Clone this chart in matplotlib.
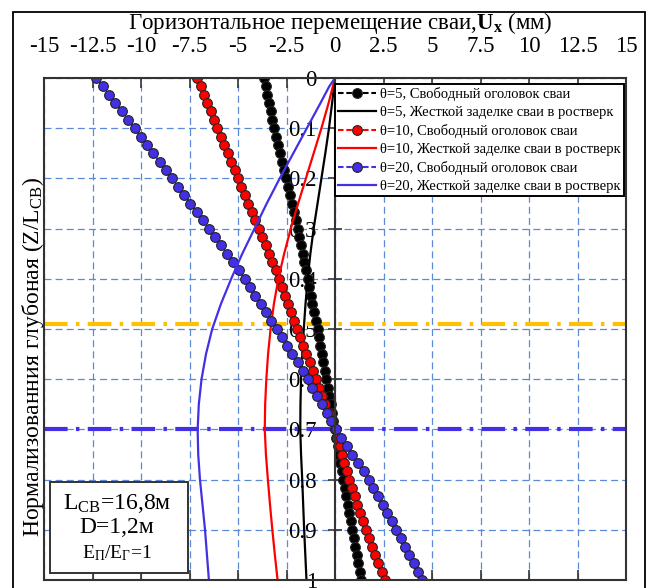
import matplotlib.pyplot as plt
import numpy as np
from matplotlib.patches import Rectangle

plt.rcParams['font.family'] = ['Liberation Serif', 'DejaVu Serif']
plt.rcParams['mathtext.fontset'] = 'custom'
plt.rcParams['mathtext.rm'] = 'Liberation Serif'
plt.rcParams['mathtext.it'] = 'Liberation Serif:italic'
plt.rcParams['mathtext.bf'] = 'Liberation Serif:bold'
plt.rcParams['lines.scale_dashes'] = False

# pile nodes every 0.28 m over 16.8 m -> 61 points for the free-head runs
depth_nodes = np.linspace(0.0, 1.0, 61)

ux_free_5 = [
    -3.66, -3.57, -3.49, -3.40, -3.31, -3.23,
    -3.14, -3.04, -2.94, -2.84, -2.73, -2.63,
    -2.53, -2.43, -2.33, -2.23, -2.13, -2.03,
    -1.93, -1.84, -1.76, -1.67, -1.58, -1.50,
    -1.41, -1.33, -1.24, -1.16, -1.07, -0.99,
    -0.90, -0.83, -0.75, -0.68, -0.60, -0.53,
    -0.45, -0.38, -0.30, -0.23, -0.15, -0.08,
    0.00, 0.07, 0.14, 0.21, 0.28, 0.35,
    0.42, 0.50, 0.58, 0.66, 0.74, 0.82,
    0.90, 0.98, 1.05, 1.13, 1.20, 1.28, 1.35,
]
ux_free_10 = [
    -7.10, -6.93, -6.76, -6.59, -6.41, -6.24,
    -6.07, -5.89, -5.71, -5.54, -5.36, -5.18,
    -5.00, -4.82, -4.64, -4.46, -4.28, -4.10,
    -3.92, -3.75, -3.57, -3.40, -3.23, -3.05,
    -2.88, -2.73, -2.57, -2.42, -2.26, -2.11,
    -1.95, -1.79, -1.63, -1.47, -1.30, -1.14,
    -0.98, -0.82, -0.65, -0.49, -0.33, -0.16,
    0.00, 0.12, 0.24, 0.36, 0.48, 0.60,
    0.72, 0.86, 1.01, 1.15, 1.29, 1.44,
    1.58, 1.74, 1.91, 2.07, 2.23, 2.40, 2.56,
]
ux_free_20 = [
    -12.30, -11.97, -11.64, -11.32, -10.99, -10.66,
    -10.33, -10.01, -9.69, -9.37, -9.04, -8.72,
    -8.40, -8.08, -7.77, -7.45, -7.13, -6.82,
    -6.50, -6.19, -5.88, -5.58, -5.27, -4.96,
    -4.65, -4.38, -4.10, -3.83, -3.55, -3.28,
    -3.00, -2.73, -2.47, -2.20, -1.93, -1.67,
    -1.40, -1.16, -0.92, -0.68, -0.43, -0.19,
    0.05, 0.33, 0.62, 0.90, 1.18, 1.47,
    1.75, 1.98, 2.22, 2.45, 2.68, 2.92,
    3.15, 3.38, 3.60, 3.83, 4.05, 4.28, 4.50,
]

depth_fixed = [0.00, 0.05, 0.10, 0.15, 0.20, 0.25, 0.30, 0.35, 0.40, 0.45, 0.50,
               0.55, 0.60, 0.65, 0.70, 0.75, 0.80, 0.85, 0.90, 0.95, 1.00]
ux_fixed_5 = [0.00, -0.15, -0.31, -0.50, -0.70, -0.90, -1.10, -1.27, -1.41, -1.52, -1.61,
              -1.69, -1.75, -1.78, -1.79, -1.75, -1.69, -1.64, -1.59, -1.53, -1.47]
ux_fixed_10 = [0.00, -0.33, -0.70, -1.10, -1.50, -1.90, -2.28, -2.62, -2.92, -3.15, -3.32,
               -3.45, -3.54, -3.60, -3.62, -3.56, -3.46, -3.35, -3.23, -3.10, -2.96]
depth_fixed_20 = [0.00, 0.017, 0.05, 0.10, 0.15, 0.20, 0.25, 0.30, 0.35, 0.40, 0.45, 0.50,
                  0.55, 0.60, 0.65, 0.70, 0.75, 0.80, 0.85, 0.90, 0.95, 1.00]
ux_fixed_20 = [0.00, -0.30, -0.75, -1.45, -2.15, -2.85, -3.52, -4.15, -4.78, -5.35, -5.88, -6.33,
               -6.65, -6.88, -7.02, -7.08, -7.05, -6.96, -6.83, -6.70, -6.60, -6.50]

# reference depth levels drawn as dash-dot lines
level_orange = 0.49
level_blue = 0.70

x_ticks = [-15, -12.5, -10, -7.5, -5, -2.5, 0, 2.5, 5, 7.5, 10, 12.5, 15]
x_tick_labels = ['-15', '-12.5', '-10', '-7.5', '-5', '-2.5', '0', '2.5', '5', '7.5', '10', '12.5', '15']
y_ticks = [0, 0.1, 0.2, 0.3, 0.4, 0.5, 0.6, 0.7, 0.8, 0.9, 1.0]
y_tick_labels = ['0', '0.1', '0.2', '0.3', '0.4', '0.5', '0.6', '0.7', '0.8', '0.9', '1']

BLUE = '#4330E6'
RED = '#FF0000'
ORANGE = '#FFC000'
GRID = '#5A8AD8'
SPINE = '#333333'

fig = plt.figure(figsize=(6.51, 5.88), dpi=100)
ax = fig.add_axes([44 / 651, 8 / 588, 582 / 651, 502 / 588])

ax.set_xlim(-15, 15)
ax.set_ylim(1, 0)
ax.set_axisbelow(True)
ax.grid(True, color=GRID, linestyle=(0, (5, 3)), linewidth=0.9)

ax.axhline(level_orange, color=ORANGE, lw=3, ls=(0, (17, 6, 2.5, 6)), zorder=1.5)
ax.axhline(level_blue, color=BLUE, lw=3, ls=(0, (17, 6, 2.5, 6)), zorder=1.5)

dot = dict(marker='o', ms=7, mec='#222222', mew=0.8, ls=(0, (4, 2)), lw=1.5)
ax.plot(ux_free_5, depth_nodes, color='black', mfc='black',
        label='θ=5, Свободный оголовок сваи', **dot)
ax.plot(ux_fixed_5, depth_fixed, color='black', lw=1.6,
        label='θ=5, Жесткой заделке сваи в ростверк')
ax.plot(ux_free_10, depth_nodes, color=RED, mfc=RED,
        label='θ=10, Свободный оголовок сваи', **dot)
ax.plot(ux_fixed_10, depth_fixed, color=RED, lw=1.6,
        label='θ=10, Жесткой заделке сваи в ростверк')
ax.plot(ux_free_20, depth_nodes, color=BLUE, mfc=BLUE,
        label='θ=20, Свободный оголовок сваи', **dot)
ax.plot(ux_fixed_20, depth_fixed_20, color=BLUE, lw=1.6,
        label='θ=20, Жесткой заделке сваи в ростверк')

# x axis on top, y axis through zero
ax.set_xticks(x_ticks)
ax.set_xticklabels(x_tick_labels)
ax.set_yticks(y_ticks)
ax.set_yticklabels(y_tick_labels)
ax.tick_params(axis='x', top=True, bottom=True, labeltop=True, labelbottom=False,
               direction='in', length=7, width=1.2, color=SPINE, labelsize=16.5, pad=15)
ax.tick_params(axis='y', left=True, right=False, direction='inout', length=10,
               width=1.2, color=SPINE, labelsize=16.5, pad=8)
ax.spines['left'].set_position(('data', 0))
for side in ['left', 'right', 'top', 'bottom']:
    ax.spines[side].set_color(SPINE)
    ax.spines[side].set_linewidth(1.5)
ax.plot([0, 0], [0, 1], transform=ax.transAxes, color=SPINE, lw=1.5, clip_on=False)

ax.set_xlabel(r'Горизонтальное перемещение сваи,$\mathbf{U_x}$ (мм)', fontsize=16.5)
ax.xaxis.set_label_position('top')
ax.xaxis.set_label_coords(0.509, 1.098)
ax.set_ylabel(r'Нормализованния глубоная (Z/L$_{\mathrm{СВ}}$)', fontsize=17)
ax.yaxis.set_label_coords(0.003, 0.445)

leg = ax.legend(loc='upper right', bbox_to_anchor=(0.9966, 0.988), fontsize=10.5,
                fancybox=False, edgecolor='black', framealpha=1, borderpad=0.2,
                labelspacing=0.33, handlelength=2.6, handletextpad=0.3,
                borderaxespad=0, numpoints=1)
leg.get_frame().set_linewidth(1.4)

# parameter box in the lower left corner
ax.add_patch(Rectangle((0.0103, 0.0139), 0.237, 0.181, transform=ax.transAxes,
                       facecolor='white', edgecolor=SPINE, lw=1.4, zorder=5))
ax.text(0.1254, 0.153, r'L$_{\mathrm{СВ}}$=16,8м', transform=ax.transAxes,
        ha='center', va='center', fontsize=17, zorder=6)
ax.text(0.1254, 0.1036, 'D=1,2м', transform=ax.transAxes,
        ha='center', va='center', fontsize=17, zorder=6)
ax.text(0.1254, 0.0538, r'E$_{\mathrm{П}}$/E$_{\mathrm{Г}}$=1', transform=ax.transAxes,
        ha='center', va='center', fontsize=14, zorder=6)

fig.patches.append(Rectangle((13 / 651, -0.05), 632 / 651, 1.05 - 12 / 588,
                             transform=fig.transFigure, fill=False,
                             edgecolor='black', lw=1.3))

fig.savefig('out.png', dpi=100)
